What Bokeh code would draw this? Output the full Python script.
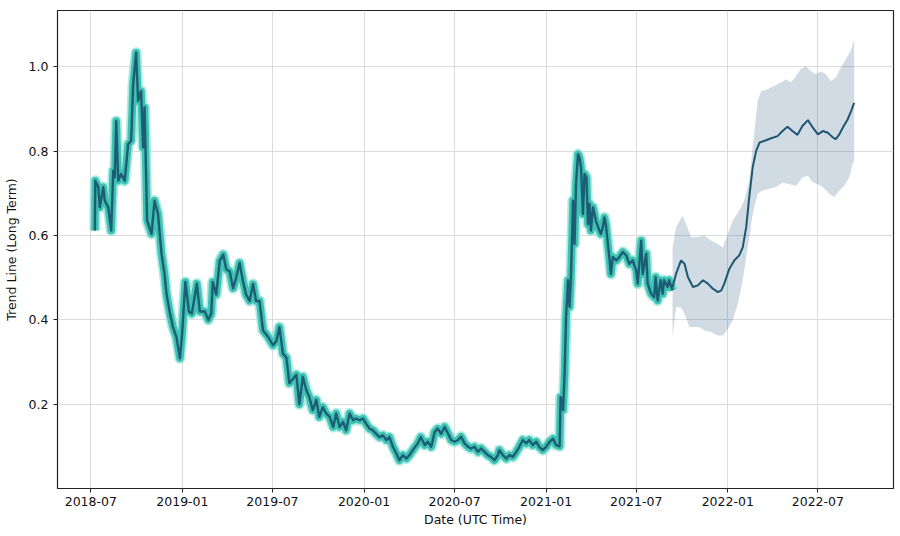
import pandas as pd
from bokeh.plotting import figure
from bokeh.models import Range1d, FixedTicker, DatetimeTickFormatter, NumeralTickFormatter
from bokeh.embed import file_html
from bokeh.resources import INLINE

# ---- historical series (actual / fitted trend) ----
hist_dates = [
    "2018-07-09", "2018-07-10", "2018-07-16", "2018-07-19", "2018-07-26", "2018-07-29", "2018-08-05", "2018-08-11",
    "2018-08-15", "2018-08-18", "2018-08-21", "2018-08-25", "2018-08-31", "2018-09-07", "2018-09-14", "2018-09-20",
    "2018-09-24", "2018-09-30", "2018-10-04", "2018-10-10", "2018-10-14", "2018-10-17", "2018-10-22", "2018-10-31",
    "2018-11-06", "2018-11-13", "2018-11-20", "2018-11-26", "2018-11-30", "2018-12-07", "2018-12-13", "2018-12-20",
    "2018-12-27", "2018-12-31", "2019-01-07", "2019-01-14", "2019-01-20", "2019-01-30", "2019-02-05", "2019-02-15",
    "2019-02-22", "2019-02-28", "2019-03-03", "2019-03-10", "2019-03-17", "2019-03-24", "2019-03-30", "2019-04-06",
    "2019-04-13", "2019-04-19", "2019-04-26", "2019-05-03", "2019-05-09", "2019-05-16", "2019-05-23", "2019-05-29",
    "2019-06-05", "2019-06-12", "2019-06-22", "2019-07-02", "2019-07-09", "2019-07-15", "2019-07-22", "2019-07-29",
    "2019-08-04", "2019-08-11", "2019-08-18", "2019-08-24", "2019-08-31", "2019-09-07", "2019-09-13", "2019-09-20",
    "2019-09-27", "2019-10-03", "2019-10-10", "2019-10-17", "2019-10-24", "2019-10-31", "2019-11-06", "2019-11-13",
    "2019-11-20", "2019-11-26", "2019-12-03", "2019-12-10", "2019-12-16", "2019-12-23", "2019-12-30", "2020-01-05",
    "2020-01-12", "2020-01-19", "2020-01-25", "2020-02-01", "2020-02-08", "2020-02-15", "2020-02-21", "2020-02-28",
    "2020-03-06", "2020-03-12", "2020-03-19", "2020-03-26", "2020-04-01", "2020-04-08", "2020-04-18", "2020-04-24",
    "2020-05-02", "2020-05-08", "2020-05-15", "2020-05-22", "2020-05-28", "2020-06-04", "2020-06-11", "2020-06-18",
    "2020-06-24", "2020-07-01", "2020-07-08", "2020-07-14", "2020-07-21", "2020-07-28", "2020-08-03", "2020-08-10",
    "2020-08-17", "2020-08-23", "2020-08-30", "2020-09-06", "2020-09-12", "2020-09-19", "2020-09-26", "2020-09-29",
    "2020-10-06", "2020-10-13", "2020-10-19", "2020-10-26", "2020-11-02", "2020-11-08", "2020-11-15", "2020-11-22",
    "2020-11-28", "2020-12-05", "2020-12-12", "2020-12-18", "2020-12-25", "2021-01-01", "2021-01-08", "2021-01-15",
    "2021-01-21", "2021-01-28", "2021-01-30", "2021-02-04", "2021-02-07", "2021-02-10", "2021-02-14", "2021-02-17",
    "2021-02-20", "2021-02-24", "2021-02-27", "2021-03-02", "2021-03-06", "2021-03-09", "2021-03-12", "2021-03-16",
    "2021-03-19", "2021-03-23", "2021-03-26", "2021-03-29", "2021-04-01", "2021-04-05", "2021-04-11", "2021-04-18",
    "2021-04-21", "2021-04-25", "2021-04-28", "2021-05-01", "2021-05-05", "2021-05-08", "2021-05-11", "2021-05-15",
    "2021-05-22", "2021-05-28", "2021-06-04", "2021-06-11", "2021-06-17", "2021-06-24", "2021-07-01", "2021-07-04",
    "2021-07-11", "2021-07-14", "2021-07-21", "2021-07-24", "2021-07-31", "2021-08-06", "2021-08-09", "2021-08-13",
    "2021-08-19", "2021-08-23", "2021-08-26", "2021-09-02", "2021-09-05", "2021-09-12",
]
hist_vals = [
    0.612, 0.730, 0.715, 0.667, 0.715, 0.683, 0.667, 0.612,
    0.754, 0.738, 0.872, 0.730, 0.746, 0.730, 0.817, 0.825,
    0.959, 1.034, 0.919, 0.943, 0.809, 0.904, 0.636, 0.604,
    0.683, 0.651, 0.557, 0.509, 0.462, 0.415, 0.383, 0.359,
    0.309, 0.360, 0.490, 0.420, 0.415, 0.486, 0.420, 0.420,
    0.400, 0.415, 0.490, 0.460, 0.540, 0.555, 0.520, 0.515,
    0.475, 0.500, 0.535, 0.490, 0.460, 0.445, 0.485, 0.445,
    0.445, 0.375, 0.360, 0.340, 0.350, 0.383, 0.320, 0.310,
    0.250, 0.260, 0.270, 0.200, 0.265, 0.233, 0.217, 0.186,
    0.210, 0.170, 0.193, 0.178, 0.170, 0.146, 0.178, 0.146,
    0.158, 0.138, 0.178, 0.162, 0.166, 0.162, 0.166, 0.154,
    0.142, 0.138, 0.130, 0.122, 0.126, 0.115, 0.122, 0.099,
    0.083, 0.067, 0.079, 0.071, 0.079, 0.091, 0.107, 0.122,
    0.103, 0.111, 0.099, 0.134, 0.142, 0.130, 0.146, 0.130,
    0.115, 0.111, 0.115, 0.123, 0.107, 0.099, 0.095, 0.099,
    0.087, 0.095, 0.087, 0.079, 0.075, 0.067, 0.079, 0.091,
    0.079, 0.071, 0.079, 0.075, 0.087, 0.099, 0.115, 0.107,
    0.115, 0.103, 0.111, 0.099, 0.091, 0.099, 0.111, 0.118,
    0.103, 0.100, 0.217, 0.186, 0.272, 0.407, 0.494, 0.431,
    0.509, 0.683, 0.580, 0.722, 0.793, 0.785, 0.762, 0.651,
    0.746, 0.738, 0.627, 0.675, 0.612, 0.667, 0.635, 0.612,
    0.604, 0.620, 0.643, 0.627, 0.580, 0.549, 0.509, 0.549,
    0.541, 0.549, 0.561, 0.553, 0.533, 0.541, 0.517, 0.486,
    0.588, 0.509, 0.557, 0.486, 0.462, 0.454, 0.501, 0.446,
    0.494, 0.462, 0.494, 0.478, 0.494, 0.470,
]

# ---- forecast trend line ----
fc_dates = [
    "2021-09-12", "2021-09-19", "2021-09-29", "2021-10-06", "2021-10-13", "2021-10-23", "2021-11-02", "2021-11-12",
    "2021-11-22", "2021-12-02", "2021-12-12", "2021-12-19", "2021-12-25", "2022-01-04", "2022-01-14", "2022-01-24",
    "2022-01-31", "2022-02-07", "2022-02-13", "2022-02-20", "2022-02-27", "2022-03-06", "2022-03-16", "2022-03-29",
    "2022-04-11", "2022-04-21", "2022-05-01", "2022-05-11", "2022-05-21", "2022-05-31", "2022-06-11", "2022-06-21",
    "2022-07-01", "2022-07-11", "2022-07-21", "2022-07-31", "2022-08-06", "2022-08-13", "2022-08-20", "2022-08-30",
    "2022-09-06", "2022-09-12",
]
fc_vals = [
    0.478, 0.509, 0.541, 0.533, 0.501, 0.478, 0.482, 0.494,
    0.486, 0.474, 0.466, 0.470, 0.486, 0.521, 0.541, 0.553,
    0.572, 0.620, 0.690, 0.762, 0.801, 0.821, 0.825, 0.831,
    0.836, 0.848, 0.858, 0.848, 0.839, 0.860, 0.874, 0.856,
    0.840, 0.848, 0.844, 0.833, 0.829, 0.840, 0.856, 0.876,
    0.896, 0.915,
]

# ---- forecast uncertainty band ----
upper_dates = [
    "2021-09-12", "2021-09-19", "2021-10-02", "2021-10-09", "2021-10-19", "2021-11-02", "2021-11-15", "2021-11-29",
    "2021-12-12", "2021-12-22", "2022-01-01", "2022-01-11", "2022-01-24", "2022-02-03", "2022-02-13", "2022-02-23",
    "2022-03-02", "2022-03-09", "2022-03-22", "2022-04-04", "2022-04-18", "2022-04-28", "2022-05-08", "2022-05-18",
    "2022-05-28", "2022-06-07", "2022-06-17", "2022-06-27", "2022-07-07", "2022-07-17", "2022-07-27", "2022-08-06",
    "2022-08-16", "2022-08-26", "2022-09-05", "2022-09-12",
]
upper_vals = [
    0.572, 0.620, 0.647, 0.628, 0.596, 0.596, 0.600, 0.588,
    0.580, 0.572, 0.604, 0.636, 0.659, 0.683, 0.730, 0.841,
    0.920, 0.943, 0.947, 0.955, 0.963, 0.971, 0.963, 0.979,
    0.995, 1.002, 0.990, 0.983, 0.990, 0.983, 0.967, 0.975,
    0.998, 1.018, 1.038, 1.065,
]
lower_dates = [
    "2021-09-12", "2021-09-19", "2021-09-29", "2021-10-06", "2021-10-16", "2021-10-26", "2021-11-05", "2021-11-15",
    "2021-11-29", "2021-12-12", "2021-12-22", "2022-01-01", "2022-01-11", "2022-01-21", "2022-01-31", "2022-02-10",
    "2022-02-20", "2022-03-02", "2022-03-12", "2022-03-26", "2022-04-08", "2022-04-21", "2022-05-05", "2022-05-18",
    "2022-05-31", "2022-06-11", "2022-06-21", "2022-07-01", "2022-07-11", "2022-07-24", "2022-08-03", "2022-08-13",
    "2022-08-23", "2022-09-02", "2022-09-09", "2022-09-12",
]
lower_vals = [
    0.359, 0.430, 0.430, 0.415, 0.383, 0.383, 0.383, 0.375,
    0.371, 0.363, 0.363, 0.379, 0.399, 0.438, 0.494, 0.572,
    0.651, 0.699, 0.707, 0.711, 0.715, 0.726, 0.722, 0.718,
    0.738, 0.742, 0.726, 0.722, 0.715, 0.699, 0.691, 0.707,
    0.718, 0.738, 0.770, 0.778,
]

x_tick_labels = ["2018-07-01", "2019-01-01", "2019-07-01", "2020-01-01", "2020-07-01",
                 "2021-01-01", "2021-07-01", "2022-01-01", "2022-07-01"]
y_ticks = [0.2, 0.4, 0.6, 0.8, 1.0]

hd = pd.to_datetime(hist_dates)
fd = pd.to_datetime(fc_dates)
ud = pd.to_datetime(upper_dates)
ld = pd.to_datetime(lower_dates)

FONT = "DejaVu Sans"

p = figure(width=900, height=536, x_axis_type="datetime",
           output_backend="svg", toolbar_location=None,
           x_range=Range1d(pd.Timestamp("2018-04-25"), pd.Timestamp("2022-11-30")),
           y_range=Range1d(0.0, 1.134),
           min_border_left=56, min_border_right=7, min_border_top=10, min_border_bottom=48)

p.background_fill_color = "white"
p.border_fill_color = "white"
p.outline_line_color = "#222222"
p.outline_line_width = 1.2
p.outline_line_alpha = 1.0

# uncertainty band
band_x = list(ud) + list(ld[::-1])
band_y = list(upper_vals) + list(lower_vals[::-1])
p.patch(band_x, band_y, fill_color="#2b5c7e", fill_alpha=0.22, line_color=None)

# historical thick teal line
p.line(hd, hist_vals, line_width=11, color="#8ae2d8", alpha=0.7, line_join="round")
p.line(hd, hist_vals, line_width=7.5, color="#3fc2b1", line_join="round")
p.line(hd, hist_vals, line_width=2.4, color="#1b5d74", line_join="round")

# forecast trend
p.line(fd, fc_vals, line_width=2, color="#1f5673")

# axes
p.xaxis.ticker = FixedTicker(ticks=[pd.Timestamp(d).value / 1e6 for d in x_tick_labels])
p.xaxis.formatter = DatetimeTickFormatter(years="%Y-%m", months="%Y-%m", days="%Y-%m",
                                          hours="%Y-%m", minutes="%Y-%m", seconds="%Y-%m",
                                          milliseconds="%Y-%m", microseconds="%Y-%m")
p.yaxis.ticker = FixedTicker(ticks=y_ticks)
p.yaxis.formatter = NumeralTickFormatter(format="0.0")

for ax in (p.xaxis[0], p.yaxis[0]):
    ax.axis_line_color = None
    ax.major_tick_line_color = "#222222"
    ax.major_tick_out = 4
    ax.major_tick_in = 0
    ax.minor_tick_line_color = None
    ax.major_label_text_font = FONT
    ax.major_label_text_font_size = "12.5px"
    ax.major_label_text_color = "#111111"
    ax.axis_label_text_font = FONT
    ax.axis_label_text_font_size = "12.5px"
    ax.axis_label_text_font_style = "normal"
    ax.axis_label_text_color = "#111111"

p.xaxis.axis_label = "Date (UTC Time)"
p.yaxis.axis_label = "Trend Line (Long Term)"
p.xaxis.major_label_standoff = 4
p.xaxis.axis_label_standoff = 3
p.yaxis.major_label_standoff = 5
p.yaxis.axis_label_standoff = 7

p.xgrid.grid_line_color = "#dcdcdc"
p.ygrid.grid_line_color = "#dcdcdc"
p.xgrid.grid_line_width = 1
p.ygrid.grid_line_width = 1

open("out.html", "w").write(file_html(p, INLINE))
